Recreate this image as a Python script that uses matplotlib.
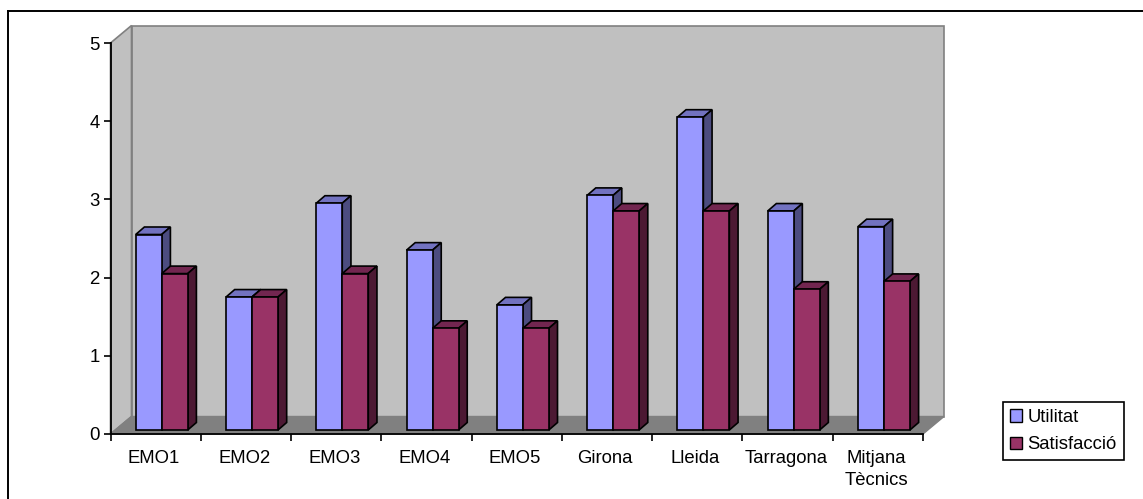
import matplotlib
matplotlib.use("Agg")
import matplotlib.pyplot as plt
from matplotlib.lines import Line2D
from matplotlib.patches import Polygon, Rectangle

categories = ["EMO1", "EMO2", "EMO3", "EMO4", "EMO5", "Girona", "Lleida", "Tarragona", "Mitjana\nTècnics"]
utilitat = [2.5, 1.7, 2.9, 2.3, 1.6, 3.0, 4.0, 2.8, 2.6]
satisfaccio = [2.0, 1.7, 2.0, 1.3, 1.3, 2.8, 2.8, 1.8, 1.9]
yticks = [0, 1, 2, 3, 4, 5]

W, H = 1143, 499
plt.rcParams["font.family"] = ["Liberation Sans", "DejaVu Sans"]

fig = plt.figure(figsize=(W / 100, H / 100), dpi=100)

# plot area in pixels: x axis 110..923, y axis 434 (0) .. 43 (5)
left, right, bottom, top = 110.5, 923, 434, 43
ax = fig.add_axes([left / W, 1 - bottom / H, (right - left) / W, (bottom - top) / H])
ax.set_xlim(0, 9)
ax.set_ylim(0, 5)
ax.patch.set_visible(False)

px = 9 / (right - left)       # one pixel in x data units
py = 5 / (bottom - top)       # one pixel in y data units

# 3d wall and floor
wall_dx, wall_dy = 21 * px, 17.5 * py
grey = "#808080"
ax.add_patch(Polygon([(wall_dx, wall_dy), (9 + wall_dx, wall_dy), (9 + wall_dx, 5 + wall_dy), (wall_dx, 5 + wall_dy)],
                     fc="#c0c0c0", ec=grey, lw=1.2, clip_on=False, zorder=1))
ax.add_patch(Polygon([(0, 0), (wall_dx, wall_dy), (wall_dx, 5 + wall_dy), (0, 5)],
                     fc="#c0c0c0", ec=grey, lw=1.2, clip_on=False, zorder=1))
ax.add_patch(Polygon([(0, 0), (9, 0), (9 + wall_dx, wall_dy), (wall_dx, wall_dy)],
                     fc=grey, ec=grey, lw=1, clip_on=False, zorder=1.5))

# bars
bar_w = 26 * px
base = 4 * py
dep_x, dep_y = 8.7 * px, 7.5 * py
offset = 25.2 * px
series = [(utilitat, "#9999ff", "#7272c0", "#4c4c80", "Utilitat"),
          (satisfaccio, "#993366", "#722650", "#4c1933", "Satisfacció")]

for s, (vals, front, top_c, side, name) in enumerate(series):
    xs = [i + offset + s * bar_w for i in range(len(vals))]
    z = 3 + s
    ax.bar(xs, vals, bar_w, bottom=base, align="edge", color=front, edgecolor="black",
           linewidth=1.2, zorder=z + 0.5, clip_on=False)
    for x, v in zip(xs, vals):
        ax.add_patch(Polygon([(x, v + base), (x + bar_w, v + base), (x + bar_w + dep_x, v + base + dep_y), (x + dep_x, v + base + dep_y)],
                             fc=top_c, ec="black", lw=1.2, clip_on=False, zorder=z))
        ax.add_patch(Polygon([(x + bar_w, base), (x + bar_w + dep_x, base + dep_y), (x + bar_w + dep_x, v + base + dep_y), (x + bar_w, v + base)],
                             fc=side, ec="black", lw=1.2, clip_on=False, zorder=z))

# axes
for sp in ["top", "right"]:
    ax.spines[sp].set_visible(False)
for sp in ["left", "bottom"]:
    ax.spines[sp].set_linewidth(1.3)
    ax.spines[sp].set_zorder(6)
ax.set_yticks(yticks)
ax.set_xticks(range(10))
ax.set_xticklabels([])
ax.tick_params(axis="y", length=5, width=1.2, pad=3, labelsize=13.4)
ax.tick_params(axis="x", length=5, width=1.2)
for i, c in enumerate(categories):
    ax.text(i + 0.48, -0.2, c, ha="center", va="top", fontsize=13.3, linespacing=1.42, clip_on=False)

# legend
leg = fig.legend([Rectangle((0, 0), 1, 1, fc=s[1], ec="black", lw=1) for s in series], [s[4] for s in series],
                 loc="upper left", bbox_to_anchor=(1003 / W, 1 - 402 / H), fontsize=13.3, frameon=True, fancybox=False,
                 edgecolor="black", framealpha=1, handlelength=0.65, handleheight=0.65, handletextpad=0.3,
                 borderpad=0.38, labelspacing=0.55, borderaxespad=0)
leg.get_frame().set_linewidth(1.2)

# chart border, only top and left edges
fig.add_artist(Line2D([7.5 / W, 7.5 / W], [0, 1 - 11 / H], color="black", lw=1.4, transform=fig.transFigure))
fig.add_artist(Line2D([7.5 / W, 1], [1 - 11 / H, 1 - 11 / H], color="black", lw=1.4, transform=fig.transFigure))

fig.savefig("out.png", dpi=100)
